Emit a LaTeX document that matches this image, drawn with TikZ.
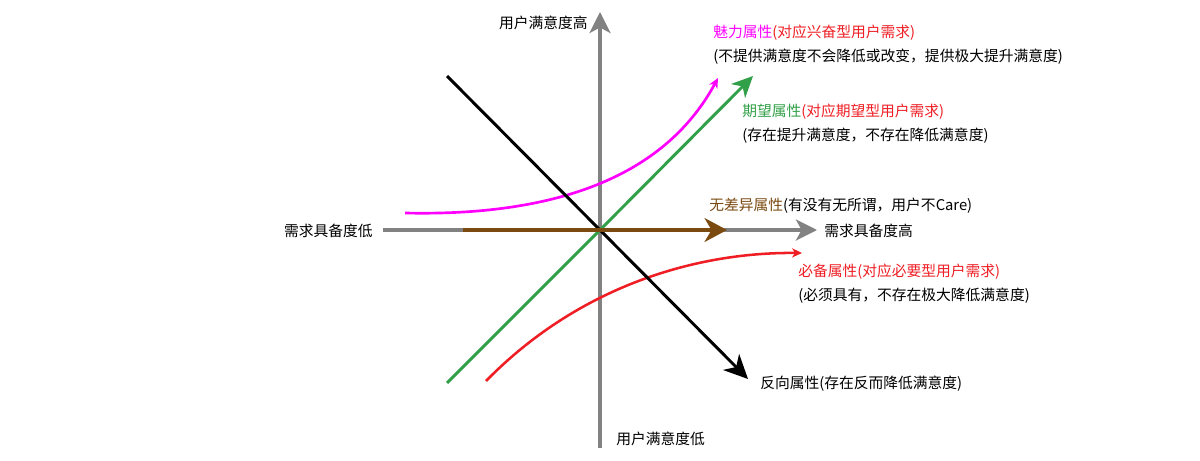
\documentclass[tikz,border=0pt]{standalone}
\usepackage{fontspec}
\setmainfont{Noto Sans CJK SC}
\usetikzlibrary{arrows.meta}
\definecolor{axisgray}{RGB}{130,130,130}
\definecolor{charm}{RGB}{255,0,255}
\definecolor{expect}{RGB}{50,160,72}
\definecolor{needred}{RGB}{238,30,36}
\definecolor{indiff}{RGB}{122,74,16}

\begin{document}
\begin{tikzpicture}[x=0.025cm, y=-0.025cm,
    lbl/.style={font=\fontsize{10.5}{12}\selectfont, inner sep=0pt},
    axisline/.style={line width=2.4pt, axisgray, -{Stealth[length=15pt, width=15pt, inset=4pt]}},
    bigtip/.style={-{Stealth[length=15pt, width=14pt, inset=4.5pt]}},
    smalltip/.style={-{Stealth[length=7pt, width=6.5pt, inset=2pt]}}]
    \useasboundingbox (0,0) rectangle (1200,460);
    % axes
    \coordinate (O) at (600,230);
    \coordinate (xlow) at (383,230);
    \coordinate (xhigh) at (817,230);
    \coordinate (ylow) at (600,448);
    \coordinate (yhigh) at (600,12);
    \draw[axisline] (xlow) -- (xhigh);
    \draw[axisline] (ylow) -- (yhigh);
    \node[lbl, anchor=east] (yhighlab) at (588,23) {用户满意度高};
    \node[lbl, anchor=west] (ylowlab) at (616,439) {用户满意度低};
    \node[lbl, anchor=east] (xlowlab) at (373,231) {需求具备度低};
    \node[lbl, anchor=west] (xhighlab) at (824,231) {需求具备度高};
    % attractive: magenta curve
    \coordinate (mstart) at (405,213);
    \coordinate (mend) at (718,78);
    \draw[line width=1.9pt, charm, smalltip] (mstart) .. controls (540,216) and (660,185) .. (mend);
    % must-be: red curve
    \coordinate (rstart) at (486,381);
    \coordinate (rend) at (802,253);
    \draw[line width=1.8pt, needred, smalltip] (rstart) .. controls (575,290) and (690,252) .. (rend);
    % one-dimensional: green line
    \coordinate (gstart) at (447,383);
    \coordinate (gend) at (753,76);
    \draw[line width=2.1pt, expect, bigtip] (gstart) -- (O) -- (gend);
    % reverse: black line
    \coordinate (kstart) at (447,76);
    \coordinate (kend) at (748,379);
    \draw[line width=2.1pt, black, -{Stealth[length=17pt, width=16pt, inset=5pt]}] (kstart) -- (O) -- (kend);
    % indifferent: brown arrow
    \coordinate (bstart) at (463,230);
    \coordinate (bend) at (727,230);
    \draw[line width=2.4pt, indiff, -{Stealth[length=16pt, width=17pt, inset=5pt]}] (bstart) -- (bend);
    % labels
    \node[lbl, anchor=west] (charmlab) at (713,33) {\textcolor{charm}{魅力属性}\textcolor{needred}{(对应兴奋型用户需求)}};
    \node[lbl, anchor=west] (charmnote) at (713,57) {(不提供满意度不会降低或改变，提供极大提升满意度)};
    \node[lbl, anchor=west] (expectlab) at (742,112) {\textcolor{expect}{期望属性}\textcolor{needred}{(对应期望型用户需求)}};
    \node[lbl, anchor=west] (expectnote) at (742,136) {(存在提升满意度，不存在降低满意度)};
    \node[lbl, anchor=west] (indifflab) at (709,206) {\textcolor{indiff}{无差异属性}(有没有无所谓，用户不Care)};
    \node[lbl, anchor=west, needred] (mustlab) at (798,272) {必备属性(对应必要型用户需求)};
    \node[lbl, anchor=west] (mustnote) at (798,296) {(必须具有，不存在极大降低满意度)};
    \node[lbl, anchor=west] (reverselab) at (760,384) {反向属性(存在反而降低满意度)};
\end{tikzpicture}
\end{document}
